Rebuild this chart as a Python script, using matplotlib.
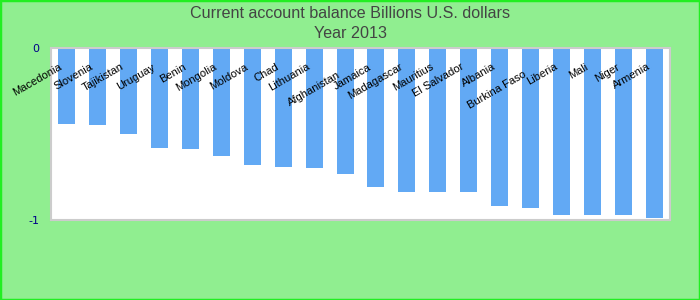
import matplotlib
matplotlib.use('Agg')
import matplotlib.pyplot as plt
import matplotlib.transforms as mtransforms

countries = ['Macedonia', 'Slovenia', 'Tajikistan', 'Uruguay', 'Benin', 'Mongolia',
             'Moldova', 'Chad', 'Lithuania', 'Afghanistan', 'Jamaica', 'Madagascar',
             'Mauritius', 'El Salvador', 'Albania', 'Burkina Faso', 'Liberia', 'Mali',
             'Niger', 'Armenia']
balance = [-0.44, -0.45, -0.50, -0.58, -0.59, -0.63, -0.68, -0.69, -0.70, -0.73,
           -0.81, -0.84, -0.84, -0.84, -0.92, -0.93, -0.97, -0.97, -0.97, -0.99]
yticks = [0, -1]

# labels Highcharts pushed down a little
lowered = {'Afghanistan', 'Burkina Faso'}

fig = plt.figure(figsize=(7, 3), dpi=100, facecolor='#90ee90')
fig.patches.append(plt.Rectangle((0, 0), 1, 1, transform=fig.transFigure,
                                 fill=False, edgecolor='#22ee22', linewidth=2.5))
ax = fig.add_axes([51/700, 1 - 220/300, 619/700, 172/300])
ax.set_facecolor('white')

x = list(range(len(countries)))
ax.bar(x, balance, width=0.55, color='#62a9f4', zorder=2)
ax.set_xlim(-0.5, len(countries) - 0.5)
ax.set_ylim(-1, 0)
ax.set_xticks([])
ax.set_yticks(yticks)
ax.set_yticklabels([str(t) for t in yticks], color='#000088', fontsize=8,
                   family='DejaVu Sans')
ax.tick_params(axis='y', length=0, pad=8.5)
for s in ax.spines.values():
    s.set_color('#cccccc')
    s.set_linewidth(1.5)

trans = mtransforms.blended_transform_factory(ax.transData, ax.transAxes)
for i, name in enumerate(countries):
    yy = 0.85 if name in lowered else 0.895
    ax.text(i - 0.17, yy, name, transform=trans, rotation=30, rotation_mode='anchor',
            ha='right', va='center', fontsize=8, family='Liberation Sans',
            color='black', zorder=3, clip_on=False)

fig.text(0.5, 1 - 13/300, 'Current account balance Billions U.S. dollars',
         ha='center', va='center', fontsize=11.6, color='#444444', family='Liberation Sans')
fig.text(0.5, 1 - 33/300, 'Year 2013', ha='center', va='center', fontsize=11.6,
         color='#444444', family='Liberation Sans')

fig.savefig('out.png', dpi=100, facecolor=fig.get_facecolor())
